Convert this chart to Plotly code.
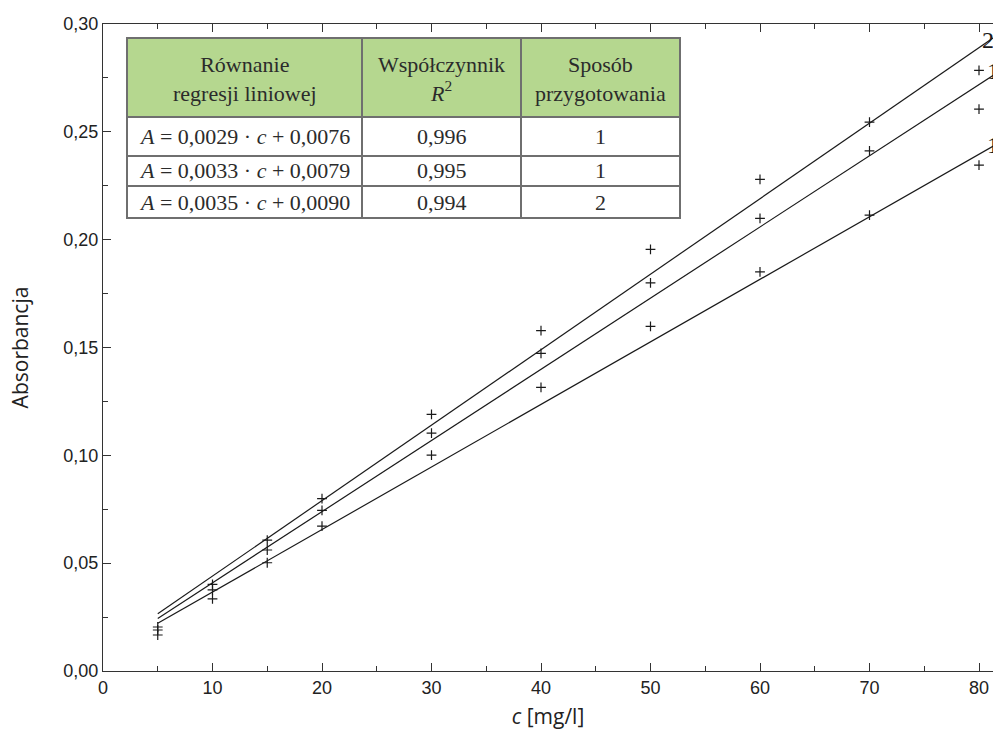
import plotly.graph_objects as go

# ---------------- data ----------------
conc = [5, 10, 15, 20, 30, 40, 50, 60, 70, 80]
abs_top = [0.0204, 0.0402, 0.0607, 0.0799, 0.1190, 0.1578, 0.1955, 0.2280, 0.2545, 0.2785]
abs_mid = [0.0190, 0.0376, 0.0561, 0.0745, 0.1103, 0.1473, 0.1800, 0.2099, 0.2412, 0.2605]
abs_bot = [0.0167, 0.0334, 0.0502, 0.0672, 0.1001, 0.1315, 0.1598, 0.1851, 0.2114, 0.2346]

slopes = [0.0035, 0.0033, 0.0029]
intercepts = [0.0090, 0.0079, 0.0076]
line_labels = ["2", "1", "1"]
line_x = [5, 83]

table_header = ["Równanie<br>regresji liniowej", "Współczynnik<br><i>R</i><sup>2</sup>", "Sposób<br>przygotowania"]
table_eq = ["<i>A</i> = 0,0029 · <i>c</i> + 0,0076",
            "<i>A</i> = 0,0033 · <i>c</i> + 0,0079",
            "<i>A</i> = 0,0035 · <i>c</i> + 0,0090"]
table_r2 = ["0,996", "0,995", "0,994"]
table_method = ["1", "1", "2"]

x_ticks = [0, 10, 20, 30, 40, 50, 60, 70, 80]
y_ticks = [0.00, 0.05, 0.10, 0.15, 0.20, 0.25, 0.30]

# ---------------- figure ----------------
W, H = 993, 738
ML, MR, MT, MB = 103, 0, 24, 67
PW, PH = W - ML - MR, H - MT - MB

fig = go.Figure()

for s, b in zip(slopes, intercepts):
    fig.add_trace(go.Scatter(
        x=line_x, y=[s * xx + b for xx in line_x], mode="lines",
        line=dict(color="#1a1a1a", width=1.2), showlegend=False, hoverinfo="skip"))

for ys in (abs_top, abs_mid, abs_bot):
    fig.add_trace(go.Scatter(
        x=conc, y=ys, mode="markers",
        marker=dict(symbol="cross-thin", size=7, line=dict(color="#1a1a1a", width=1.2)),
        showlegend=False))

# labels at line ends
label_pos_y = [0.2925, 0.2780, 0.2440]
label_x = [80.05, 80.55, 80.55]
for lab, lx, ly in zip(line_labels, label_x, label_pos_y):
    fig.add_annotation(x=lx, y=ly, xref="x", yref="y", text=lab, showarrow=False,
                       xanchor="left", yanchor="middle",
                       font=dict(family="Liberation Serif", size=24, color="#1a1a1a"))

# ---------------- table ----------------
def px(xp):
    return (xp - ML) / PW

def py(yp):
    return (H - MB - yp) / PH

col_edges = [127, 362, 521, 680]
row_edges = [38, 117, 156, 186, 218]
border = "#6f6f6f"
green = "#b5d78f"

rows = [table_header] + [[e, r, m] for e, r, m in zip(table_eq, table_r2, table_method)]
for ri in range(len(rows)):
    for ci in range(3):
        x0, x1 = col_edges[ci], col_edges[ci + 1]
        y0, y1 = row_edges[ri], row_edges[ri + 1]
        fig.add_shape(type="rect", xref="paper", yref="paper",
                      x0=px(x0), x1=px(x1), y0=py(y1), y1=py(y0),
                      fillcolor=green if ri == 0 else "white",
                      line=dict(color=border, width=2), layer="above")
        fig.add_annotation(xref="paper", yref="paper",
                           x=px((x0 + x1) / 2), y=py((y0 + y1) / 2 + (1 if ri == 0 else 0)),
                           text=rows[ri][ci], showarrow=False, xanchor="center", yanchor="middle",
                           align="center",
                           font=dict(family="Liberation Serif", size=22, color="#2b2b2b"))

axis_common = dict(
    showline=True, linecolor="#333333", linewidth=1.3,
    ticks="inside", ticklen=8, tickwidth=1.2, tickcolor="#333333",
    showgrid=False, zeroline=False,
    tickfont=dict(family="Liberation Sans", size=18, color="#222222"),
)

fig.update_layout(
    width=W, height=H,
    margin=dict(l=ML, r=MR, t=MT, b=MB, pad=0),
    plot_bgcolor="white", paper_bgcolor="white",
    separators=", ",
    xaxis=dict(range=[0, PW / 10.95], tickvals=x_ticks, mirror="ticks",
               minor=dict(dtick=5, tick0=0, ticks="inside", ticklen=5, tickcolor="#333333", tickwidth=1),
               title=dict(text="<i>c</i> [mg/l]", standoff=12,
                          font=dict(family="Open Sans", size=21, color="#222222")),
               **axis_common),
    yaxis=dict(range=[0, 0.30], tickvals=y_ticks, tickformat=".2f",
               minor=dict(dtick=0.025, tick0=0, ticks="inside", ticklen=5, tickcolor="#333333", tickwidth=1),
               title=dict(text="Absorbancja", standoff=28,
                          font=dict(family="Open Sans", size=21, color="#222222")),
               **axis_common),
)

fig.write_html("out.html")
